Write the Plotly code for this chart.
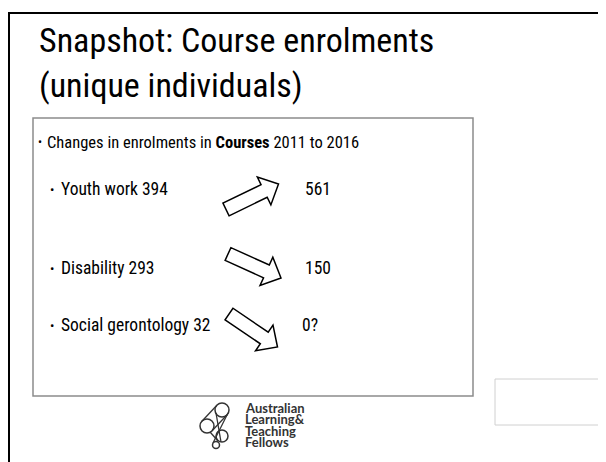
import plotly.graph_objects as go
import math

# ---- data ----
title_lines = ["Snapshot: Course enrolments", "(unique individuals)"]
intro_text = "Changes in enrolments in <b>Courses</b> 2011 to 2016"
categories = ["Youth work", "Disability", "Social gerontology"]
values_2011 = [394, 293, 32]
labels_2016 = ["561", "150", "0?"]
logo_lines = ["Australian", "Learning&", "Teaching", "Fellows"]

W, H = 606, 462
OFF = 8  # page body margin compensation
BODY_FONT = "Roboto Condensed, DejaVu Sans Condensed, sans-serif"

fig = go.Figure()
fig.add_trace(go.Scatter(x=[0], y=[0], mode="markers", marker=dict(opacity=0),
                         hoverinfo="skip", showlegend=False))

shapes = []
annotations = []

# outer slide frame
shapes.append(dict(type="rect", x0=9, y0=13, x1=W + 20, y1=H + 20,
                   line=dict(color="black", width=2)))
# neighbouring slide ghost box
shapes.append(dict(type="rect", x0=495, y0=379, x1=W + 20, y1=425,
                   line=dict(color="#d0d0d0", width=1)))
# content box
shapes.append(dict(type="rect", x0=33, y0=118, x1=473, y1=396,
                   line=dict(color="#8c8c8c", width=1.5)))

# title
for i, t in enumerate(title_lines):
    annotations.append(dict(x=37, y=40 + i * 45, text=t, showarrow=False,
                            xanchor="left", yanchor="middle",
                            font=dict(family=BODY_FONT, size=34, color="black")))

# intro bullet
annotations.append(dict(x=36, y=142, text="•", showarrow=False, xanchor="left",
                        yanchor="middle", font=dict(family=BODY_FONT, size=12, color="black")))
annotations.append(dict(x=45, y=142, text=intro_text, showarrow=False, xanchor="left",
                        yanchor="middle", font=dict(family=BODY_FONT, size=16.5, color="black")))

row_y = [189, 268, 325]
new_x = [303, 303, 300]
# arrow geometry: tail midpoint and tip (pixel space)
arrow_tail = [(226, 209.5), (228, 254), (229, 314)]
arrow_tip = [(278.5, 184), (281, 278), (277.5, 347)]


def arrow_path(p0, p1, sw=14, hw=31, hl=16):
    x0, y0 = p0
    x1, y1 = p1
    L = math.hypot(x1 - x0, y1 - y0)
    ux, uy = (x1 - x0) / L, (y1 - y0) / L
    nx, ny = -uy, ux
    bx, by = x1 - ux * hl, y1 - uy * hl
    pts = [
        (x0 + nx * sw / 2, y0 + ny * sw / 2),
        (bx + nx * sw / 2, by + ny * sw / 2),
        (bx + nx * hw / 2, by + ny * hw / 2),
        (x1, y1),
        (bx - nx * hw / 2, by - ny * hw / 2),
        (bx - nx * sw / 2, by - ny * sw / 2),
        (x0 - nx * sw / 2, y0 - ny * sw / 2),
    ]
    return "M " + " L ".join(f"{px:.2f},{py:.2f}" for px, py in pts) + " Z"


for cat, v_old, v_new, y, nx_, t0, t1 in zip(categories, values_2011, labels_2016,
                                            row_y, new_x, arrow_tail, arrow_tip):
    annotations.append(dict(x=48, y=y, text="•", showarrow=False, xanchor="left",
                            yanchor="middle", font=dict(family=BODY_FONT, size=13, color="black")))
    annotations.append(dict(x=59, y=y, text=f"{cat} {v_old}", showarrow=False,
                            xanchor="left", yanchor="middle",
                            font=dict(family=BODY_FONT, size=17.5, color="black")))
    annotations.append(dict(x=nx_, y=y, text=v_new, showarrow=False,
                            xanchor="left", yanchor="middle",
                            font=dict(family=BODY_FONT, size=17.5, color="black")))
    shapes.append(dict(type="path", path=arrow_path(t0, t1), fillcolor="white",
                       line=dict(color="black", width=1.5)))

# logo icon (outlined rings linked by straps)
logo_col = "#333333"
rings = [(222, 410, 7), (207, 426, 7), (222, 436, 6), (216, 445, 3.5)]
for cx, cy, r in rings:
    shapes.append(dict(type="circle", x0=cx - r, y0=cy - r, x1=cx + r, y1=cy + r,
                       line=dict(color=logo_col, width=1.5)))
straps = [((227.1, 414.8), (212.1, 430.8)), ((216.9, 405.2), (201.9, 421.2)),
          ((216, 413), (221, 442)), ((228, 413), (213, 443)),
          ((210, 432), (218, 441))]
for (ax, ay), (bx, by) in straps:
    shapes.append(dict(type="line", x0=ax, y0=ay, x1=bx, y1=by,
                       line=dict(color=logo_col, width=1.3)))

for i, t in enumerate(logo_lines):
    annotations.append(dict(x=243, y=407.5 + i * 11.6, text=f"<b>{t}</b>", showarrow=False,
                            xanchor="left", yanchor="middle",
                            font=dict(family="Lato, sans-serif", size=13, color=logo_col)))

fig.update_layout(
    width=W, height=H,
    margin=dict(l=0, r=0, t=0, b=0),
    paper_bgcolor="white", plot_bgcolor="white",
    xaxis=dict(range=[OFF, W + OFF], visible=False, fixedrange=True),
    yaxis=dict(range=[H + OFF, OFF], visible=False, fixedrange=True),
    shapes=shapes, annotations=annotations, showlegend=False,
)

fig.write_html("out.html")
